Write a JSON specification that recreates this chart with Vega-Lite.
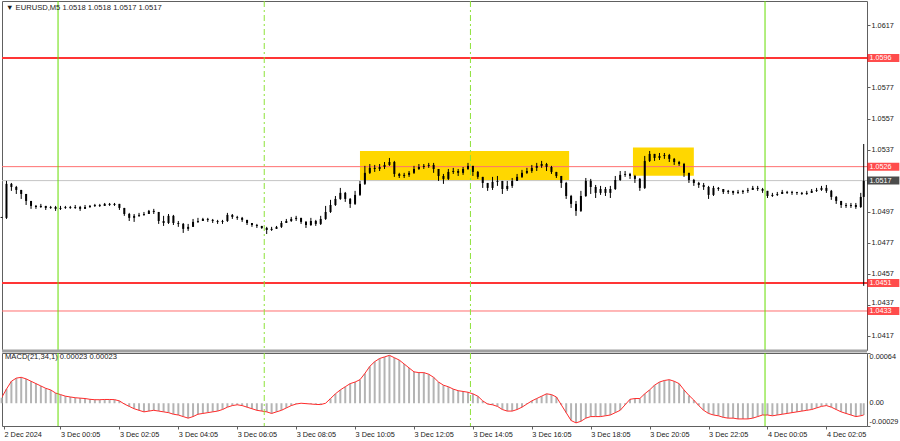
{
"$schema": "https://vega.github.io/schema/vega-lite/v6.json",
"padding": 0,
"background": "white",
"spacing": 3,
"bounds": "flush",
"config": {
 "view": {"stroke": "#606060", "strokeWidth": 1},
 "axis": {"labelFont": "Liberation Sans", "labelFontSize": 7.3, "labelColor": "#1a1a1a", "tickColor": "#606060", "domainColor": "#606060", "grid": false, "title": null, "tickSize": 3, "labelPadding": 1},
 "text": {"font": "Liberation Sans"}
},
"datasets": {
 "bars": [
{"t":"2024-12-02T22:05:00Z","o":1.04936,"h":1.04949,"l":1.04917,"c":1.04930,"m":0.00007},
{"t":"2024-12-02T22:15:00Z","o":1.04930,"h":1.05168,"l":1.04923,"c":1.05149,"m":0.00018},
{"t":"2024-12-02T22:25:00Z","o":1.05149,"h":1.05155,"l":1.05104,"c":1.05129,"m":0.00028},
{"t":"2024-12-02T22:35:00Z","o":1.05129,"h":1.05136,"l":1.05084,"c":1.05110,"m":0.00032},
{"t":"2024-12-02T22:45:00Z","o":1.05110,"h":1.05110,"l":1.05052,"c":1.05084,"m":0.00033},
{"t":"2024-12-02T22:55:00Z","o":1.05084,"h":1.05084,"l":1.05013,"c":1.05039,"m":0.00031},
{"t":"2024-12-02T23:05:00Z","o":1.05039,"h":1.05039,"l":1.04988,"c":1.05007,"m":0.00028},
{"t":"2024-12-02T23:15:00Z","o":1.05007,"h":1.05013,"l":1.04988,"c":1.05000,"m":0.00025},
{"t":"2024-12-02T23:25:00Z","o":1.05000,"h":1.05020,"l":1.04994,"c":1.05007,"m":0.00022},
{"t":"2024-12-02T23:35:00Z","o":1.05007,"h":1.05007,"l":1.04981,"c":1.04994,"m":0.00019},
{"t":"2024-12-02T23:45:00Z","o":1.04994,"h":1.05007,"l":1.04988,"c":1.05000,"m":0.00017},
{"t":"2024-12-02T23:55:00Z","o":1.05000,"h":1.05007,"l":1.04975,"c":1.04988,"m":0.00013},
{"t":"2024-12-03T00:05:00Z","o":1.04988,"h":1.05007,"l":1.04981,"c":1.04994,"m":0.00011},
{"t":"2024-12-03T00:15:00Z","o":1.04994,"h":1.05007,"l":1.04988,"c":1.05000,"m":0.00009},
{"t":"2024-12-03T00:25:00Z","o":1.05000,"h":1.05007,"l":1.04988,"c":1.04994,"m":0.00008},
{"t":"2024-12-03T00:35:00Z","o":1.04994,"h":1.05013,"l":1.04988,"c":1.05000,"m":0.00007},
{"t":"2024-12-03T00:45:00Z","o":1.05000,"h":1.05007,"l":1.04975,"c":1.04988,"m":0.000065},
{"t":"2024-12-03T00:55:00Z","o":1.04988,"h":1.05013,"l":1.04988,"c":1.05000,"m":0.00006},
{"t":"2024-12-03T01:05:00Z","o":1.05000,"h":1.05013,"l":1.04994,"c":1.05007,"m":0.00005},
{"t":"2024-12-03T01:15:00Z","o":1.05007,"h":1.05020,"l":1.05000,"c":1.05013,"m":0.000045},
{"t":"2024-12-03T01:25:00Z","o":1.05013,"h":1.05020,"l":1.05000,"c":1.05007,"m":0.000045},
{"t":"2024-12-03T01:35:00Z","o":1.05007,"h":1.05026,"l":1.05007,"c":1.05020,"m":0.000048},
{"t":"2024-12-03T01:45:00Z","o":1.05020,"h":1.05026,"l":1.05007,"c":1.05013,"m":0.000048},
{"t":"2024-12-03T01:55:00Z","o":1.05013,"h":1.05026,"l":1.05007,"c":1.05020,"m":0.000046},
{"t":"2024-12-03T02:05:00Z","o":1.05020,"h":1.05020,"l":1.04981,"c":1.04994,"m":0.00003},
{"t":"2024-12-03T02:15:00Z","o":1.04994,"h":1.04994,"l":1.04943,"c":1.04955,"m":-0.00001},
{"t":"2024-12-03T02:25:00Z","o":1.04955,"h":1.04962,"l":1.04910,"c":1.04930,"m":-0.00004},
{"t":"2024-12-03T02:35:00Z","o":1.04930,"h":1.04955,"l":1.04904,"c":1.04943,"m":-0.00007},
{"t":"2024-12-03T02:45:00Z","o":1.04943,"h":1.04962,"l":1.04936,"c":1.04949,"m":-0.00009},
{"t":"2024-12-03T02:55:00Z","o":1.04949,"h":1.04968,"l":1.04943,"c":1.04955,"m":-0.00011},
{"t":"2024-12-03T03:05:00Z","o":1.04955,"h":1.04981,"l":1.04955,"c":1.04975,"m":-0.00010},
{"t":"2024-12-03T03:15:00Z","o":1.04975,"h":1.04988,"l":1.04955,"c":1.04968,"m":-0.00009},
{"t":"2024-12-03T03:25:00Z","o":1.04968,"h":1.04968,"l":1.04891,"c":1.04910,"m":-0.00010},
{"t":"2024-12-03T03:35:00Z","o":1.04910,"h":1.04943,"l":1.04878,"c":1.04897,"m":-0.00011},
{"t":"2024-12-03T03:45:00Z","o":1.04897,"h":1.04955,"l":1.04891,"c":1.04943,"m":-0.00012},
{"t":"2024-12-03T03:55:00Z","o":1.04943,"h":1.04949,"l":1.04884,"c":1.04897,"m":-0.00014},
{"t":"2024-12-03T04:05:00Z","o":1.04897,"h":1.04910,"l":1.04872,"c":1.04891,"m":-0.00015},
{"t":"2024-12-03T04:15:00Z","o":1.04891,"h":1.04897,"l":1.04833,"c":1.04859,"m":-0.00017},
{"t":"2024-12-03T04:25:00Z","o":1.04859,"h":1.04891,"l":1.04846,"c":1.04872,"m":-0.00019},
{"t":"2024-12-03T04:35:00Z","o":1.04872,"h":1.04923,"l":1.04872,"c":1.04904,"m":-0.00017},
{"t":"2024-12-03T04:45:00Z","o":1.04904,"h":1.04930,"l":1.04897,"c":1.04910,"m":-0.00014},
{"t":"2024-12-03T04:55:00Z","o":1.04910,"h":1.04930,"l":1.04910,"c":1.04923,"m":-0.00013},
{"t":"2024-12-03T05:05:00Z","o":1.04923,"h":1.04930,"l":1.04904,"c":1.04917,"m":-0.00012},
{"t":"2024-12-03T05:15:00Z","o":1.04917,"h":1.04923,"l":1.04897,"c":1.04910,"m":-0.00011},
{"t":"2024-12-03T05:25:00Z","o":1.04910,"h":1.04917,"l":1.04891,"c":1.04904,"m":-0.00010},
{"t":"2024-12-03T05:35:00Z","o":1.04904,"h":1.04917,"l":1.04891,"c":1.04910,"m":-0.00008},
{"t":"2024-12-03T05:45:00Z","o":1.04910,"h":1.04962,"l":1.04904,"c":1.04949,"m":-0.00005},
{"t":"2024-12-03T05:55:00Z","o":1.04949,"h":1.04955,"l":1.04923,"c":1.04936,"m":-0.00003},
{"t":"2024-12-03T06:05:00Z","o":1.04936,"h":1.04943,"l":1.04917,"c":1.04930,"m":-0.00002},
{"t":"2024-12-03T06:15:00Z","o":1.04930,"h":1.04936,"l":1.04904,"c":1.04917,"m":-0.00003},
{"t":"2024-12-03T06:25:00Z","o":1.04917,"h":1.04917,"l":1.04884,"c":1.04897,"m":-0.00005},
{"t":"2024-12-03T06:35:00Z","o":1.04897,"h":1.04897,"l":1.04872,"c":1.04884,"m":-0.00007},
{"t":"2024-12-03T06:45:00Z","o":1.04884,"h":1.04891,"l":1.04865,"c":1.04878,"m":-0.00009},
{"t":"2024-12-03T06:55:00Z","o":1.04878,"h":1.04878,"l":1.04859,"c":1.04865,"m":-0.00010},
{"t":"2024-12-03T07:05:00Z","o":1.04865,"h":1.04872,"l":1.04826,"c":1.04852,"m":-0.00011},
{"t":"2024-12-03T07:15:00Z","o":1.04852,"h":1.04872,"l":1.04846,"c":1.04859,"m":-0.00013},
{"t":"2024-12-03T07:25:00Z","o":1.04859,"h":1.04878,"l":1.04859,"c":1.04872,"m":-0.00011},
{"t":"2024-12-03T07:35:00Z","o":1.04872,"h":1.04910,"l":1.04865,"c":1.04897,"m":-0.00009},
{"t":"2024-12-03T07:45:00Z","o":1.04897,"h":1.04923,"l":1.04897,"c":1.04910,"m":-0.00006},
{"t":"2024-12-03T07:55:00Z","o":1.04910,"h":1.04936,"l":1.04904,"c":1.04923,"m":-0.00003},
{"t":"2024-12-03T08:05:00Z","o":1.04923,"h":1.04943,"l":1.04910,"c":1.04930,"m":-0.00001},
{"t":"2024-12-03T08:15:00Z","o":1.04930,"h":1.04930,"l":1.04891,"c":1.04904,"m":0.0},
{"t":"2024-12-03T08:25:00Z","o":1.04904,"h":1.04910,"l":1.04865,"c":1.04884,"m":-0.000005},
{"t":"2024-12-03T08:35:00Z","o":1.04884,"h":1.04930,"l":1.04878,"c":1.04910,"m":-0.00001},
{"t":"2024-12-03T08:45:00Z","o":1.04910,"h":1.04917,"l":1.04878,"c":1.04891,"m":-0.000015},
{"t":"2024-12-03T08:55:00Z","o":1.04891,"h":1.04943,"l":1.04884,"c":1.04923,"m":-0.000017},
{"t":"2024-12-03T09:05:00Z","o":1.04923,"h":1.05007,"l":1.04917,"c":1.04968,"m":0.0},
{"t":"2024-12-03T09:15:00Z","o":1.04968,"h":1.05046,"l":1.04962,"c":1.05013,"m":0.00006},
{"t":"2024-12-03T09:25:00Z","o":1.05013,"h":1.05071,"l":1.05007,"c":1.05052,"m":0.00012},
{"t":"2024-12-03T09:35:00Z","o":1.05052,"h":1.05123,"l":1.05046,"c":1.05091,"m":0.00017},
{"t":"2024-12-03T09:45:00Z","o":1.05091,"h":1.05097,"l":1.05033,"c":1.05052,"m":0.00021},
{"t":"2024-12-03T09:55:00Z","o":1.05052,"h":1.05058,"l":1.04994,"c":1.05020,"m":0.00025},
{"t":"2024-12-03T10:05:00Z","o":1.05020,"h":1.05104,"l":1.05013,"c":1.05078,"m":0.00027},
{"t":"2024-12-03T10:15:00Z","o":1.05078,"h":1.05168,"l":1.05071,"c":1.05149,"m":0.00030},
{"t":"2024-12-03T10:25:00Z","o":1.05149,"h":1.05265,"l":1.05142,"c":1.05220,"m":0.00038},
{"t":"2024-12-03T10:35:00Z","o":1.05220,"h":1.05277,"l":1.05213,"c":1.05252,"m":0.00047},
{"t":"2024-12-03T10:45:00Z","o":1.05252,"h":1.05271,"l":1.05226,"c":1.05245,"m":0.00053},
{"t":"2024-12-03T10:55:00Z","o":1.05245,"h":1.05277,"l":1.05232,"c":1.05258,"m":0.00057},
{"t":"2024-12-03T11:05:00Z","o":1.05258,"h":1.05290,"l":1.05245,"c":1.05271,"m":0.00059},
{"t":"2024-12-03T11:15:00Z","o":1.05271,"h":1.05316,"l":1.05265,"c":1.05290,"m":0.00061},
{"t":"2024-12-03T11:25:00Z","o":1.05290,"h":1.05297,"l":1.05194,"c":1.05213,"m":0.00058},
{"t":"2024-12-03T11:35:00Z","o":1.05213,"h":1.05220,"l":1.05187,"c":1.05200,"m":0.00055},
{"t":"2024-12-03T11:45:00Z","o":1.05200,"h":1.05220,"l":1.05187,"c":1.05207,"m":0.00050},
{"t":"2024-12-03T11:55:00Z","o":1.05207,"h":1.05232,"l":1.05194,"c":1.05220,"m":0.00045},
{"t":"2024-12-03T12:05:00Z","o":1.05220,"h":1.05265,"l":1.05213,"c":1.05245,"m":0.00040},
{"t":"2024-12-03T12:15:00Z","o":1.05245,"h":1.05277,"l":1.05239,"c":1.05258,"m":0.00039},
{"t":"2024-12-03T12:25:00Z","o":1.05258,"h":1.05277,"l":1.05245,"c":1.05265,"m":0.00039},
{"t":"2024-12-03T12:35:00Z","o":1.05265,"h":1.05284,"l":1.05252,"c":1.05271,"m":0.00037},
{"t":"2024-12-03T12:45:00Z","o":1.05271,"h":1.05284,"l":1.05220,"c":1.05245,"m":0.00033},
{"t":"2024-12-03T12:55:00Z","o":1.05245,"h":1.05245,"l":1.05168,"c":1.05200,"m":0.00027},
{"t":"2024-12-03T13:05:00Z","o":1.05200,"h":1.05213,"l":1.05149,"c":1.05181,"m":0.00023},
{"t":"2024-12-03T13:15:00Z","o":1.05181,"h":1.05245,"l":1.05174,"c":1.05226,"m":0.00021},
{"t":"2024-12-03T13:25:00Z","o":1.05226,"h":1.05252,"l":1.05213,"c":1.05232,"m":0.00018},
{"t":"2024-12-03T13:35:00Z","o":1.05232,"h":1.05245,"l":1.05200,"c":1.05220,"m":0.00016},
{"t":"2024-12-03T13:45:00Z","o":1.05220,"h":1.05258,"l":1.05207,"c":1.05245,"m":0.00015},
{"t":"2024-12-03T13:55:00Z","o":1.05245,"h":1.05284,"l":1.05239,"c":1.05265,"m":0.00014},
{"t":"2024-12-03T14:05:00Z","o":1.05265,"h":1.05265,"l":1.05200,"c":1.05226,"m":0.00012},
{"t":"2024-12-03T14:15:00Z","o":1.05226,"h":1.05232,"l":1.05181,"c":1.05194,"m":0.00009},
{"t":"2024-12-03T14:25:00Z","o":1.05194,"h":1.05194,"l":1.05123,"c":1.05155,"m":0.00003},
{"t":"2024-12-03T14:35:00Z","o":1.05155,"h":1.05155,"l":1.05104,"c":1.05123,"m":-0.00001},
{"t":"2024-12-03T14:45:00Z","o":1.05123,"h":1.05194,"l":1.05110,"c":1.05162,"m":-0.00002},
{"t":"2024-12-03T14:55:00Z","o":1.05162,"h":1.05200,"l":1.05136,"c":1.05168,"m":-0.00004},
{"t":"2024-12-03T15:05:00Z","o":1.05168,"h":1.05168,"l":1.05084,"c":1.05116,"m":-0.00008},
{"t":"2024-12-03T15:15:00Z","o":1.05116,"h":1.05168,"l":1.05104,"c":1.05136,"m":-0.00010},
{"t":"2024-12-03T15:25:00Z","o":1.05136,"h":1.05187,"l":1.05123,"c":1.05168,"m":-0.00010},
{"t":"2024-12-03T15:35:00Z","o":1.05168,"h":1.05213,"l":1.05168,"c":1.05194,"m":-0.00008},
{"t":"2024-12-03T15:45:00Z","o":1.05194,"h":1.05239,"l":1.05187,"c":1.05220,"m":-0.00005},
{"t":"2024-12-03T15:55:00Z","o":1.05220,"h":1.05252,"l":1.05213,"c":1.05232,"m":-0.00001},
{"t":"2024-12-03T16:05:00Z","o":1.05232,"h":1.05271,"l":1.05220,"c":1.05252,"m":0.00003},
{"t":"2024-12-03T16:15:00Z","o":1.05252,"h":1.05284,"l":1.05232,"c":1.05265,"m":0.00006},
{"t":"2024-12-03T16:25:00Z","o":1.05265,"h":1.05297,"l":1.05252,"c":1.05277,"m":0.00009},
{"t":"2024-12-03T16:35:00Z","o":1.05277,"h":1.05284,"l":1.05232,"c":1.05258,"m":0.00012},
{"t":"2024-12-03T16:45:00Z","o":1.05258,"h":1.05265,"l":1.05213,"c":1.05226,"m":0.00011},
{"t":"2024-12-03T16:55:00Z","o":1.05226,"h":1.05226,"l":1.05187,"c":1.05200,"m":0.00008},
{"t":"2024-12-03T17:05:00Z","o":1.05200,"h":1.05200,"l":1.05123,"c":1.05155,"m":-0.00002},
{"t":"2024-12-03T17:15:00Z","o":1.05155,"h":1.05162,"l":1.05052,"c":1.05071,"m":-0.00012},
{"t":"2024-12-03T17:25:00Z","o":1.05071,"h":1.05078,"l":1.04994,"c":1.05020,"m":-0.00022},
{"t":"2024-12-03T17:35:00Z","o":1.05020,"h":1.05039,"l":1.04943,"c":1.04975,"m":-0.00025},
{"t":"2024-12-03T17:45:00Z","o":1.04975,"h":1.05104,"l":1.04968,"c":1.05071,"m":-0.00023},
{"t":"2024-12-03T17:55:00Z","o":1.05071,"h":1.05187,"l":1.05065,"c":1.05168,"m":-0.00019},
{"t":"2024-12-03T18:05:00Z","o":1.05168,"h":1.05181,"l":1.05084,"c":1.05129,"m":-0.00017},
{"t":"2024-12-03T18:15:00Z","o":1.05129,"h":1.05142,"l":1.05058,"c":1.05091,"m":-0.00017},
{"t":"2024-12-03T18:25:00Z","o":1.05091,"h":1.05136,"l":1.05078,"c":1.05116,"m":-0.00017},
{"t":"2024-12-03T18:35:00Z","o":1.05116,"h":1.05129,"l":1.05071,"c":1.05091,"m":-0.00016},
{"t":"2024-12-03T18:45:00Z","o":1.05091,"h":1.05136,"l":1.05058,"c":1.05116,"m":-0.00015},
{"t":"2024-12-03T18:55:00Z","o":1.05116,"h":1.05200,"l":1.05110,"c":1.05174,"m":-0.00012},
{"t":"2024-12-03T19:05:00Z","o":1.05174,"h":1.05232,"l":1.05168,"c":1.05207,"m":-0.00009},
{"t":"2024-12-03T19:15:00Z","o":1.05207,"h":1.05232,"l":1.05194,"c":1.05213,"m":-0.00002},
{"t":"2024-12-03T19:25:00Z","o":1.05213,"h":1.05220,"l":1.05181,"c":1.05200,"m":0.00005},
{"t":"2024-12-03T19:35:00Z","o":1.05200,"h":1.05207,"l":1.05155,"c":1.05181,"m":0.00006},
{"t":"2024-12-03T19:45:00Z","o":1.05181,"h":1.05187,"l":1.05104,"c":1.05123,"m":0.00006},
{"t":"2024-12-03T19:55:00Z","o":1.05123,"h":1.05329,"l":1.05116,"c":1.05297,"m":0.00012},
{"t":"2024-12-03T20:05:00Z","o":1.05297,"h":1.05361,"l":1.05290,"c":1.05342,"m":0.00017},
{"t":"2024-12-03T20:15:00Z","o":1.05342,"h":1.05342,"l":1.05297,"c":1.05316,"m":0.00023},
{"t":"2024-12-03T20:25:00Z","o":1.05316,"h":1.05348,"l":1.05303,"c":1.05329,"m":0.00027},
{"t":"2024-12-03T20:35:00Z","o":1.05329,"h":1.05348,"l":1.05310,"c":1.05335,"m":0.00029},
{"t":"2024-12-03T20:45:00Z","o":1.05335,"h":1.05342,"l":1.05290,"c":1.05310,"m":0.00030},
{"t":"2024-12-03T20:55:00Z","o":1.05310,"h":1.05316,"l":1.05271,"c":1.05290,"m":0.00028},
{"t":"2024-12-03T21:05:00Z","o":1.05290,"h":1.05297,"l":1.05265,"c":1.05277,"m":0.00025},
{"t":"2024-12-03T21:15:00Z","o":1.05277,"h":1.05284,"l":1.05194,"c":1.05220,"m":0.00017},
{"t":"2024-12-03T21:25:00Z","o":1.05220,"h":1.05220,"l":1.05155,"c":1.05174,"m":0.00010},
{"t":"2024-12-03T21:35:00Z","o":1.05174,"h":1.05181,"l":1.05136,"c":1.05155,"m":0.00004},
{"t":"2024-12-03T21:45:00Z","o":1.05155,"h":1.05162,"l":1.05123,"c":1.05142,"m":-0.00003},
{"t":"2024-12-03T21:55:00Z","o":1.05142,"h":1.05155,"l":1.05110,"c":1.05129,"m":-0.00009},
{"t":"2024-12-03T22:05:00Z","o":1.05129,"h":1.05136,"l":1.05052,"c":1.05078,"m":-0.00013},
{"t":"2024-12-03T22:15:00Z","o":1.05078,"h":1.05136,"l":1.05071,"c":1.05123,"m":-0.00015},
{"t":"2024-12-03T22:25:00Z","o":1.05123,"h":1.05129,"l":1.05104,"c":1.05116,"m":-0.00016},
{"t":"2024-12-03T22:35:00Z","o":1.05116,"h":1.05116,"l":1.05084,"c":1.05097,"m":-0.00018},
{"t":"2024-12-03T22:45:00Z","o":1.05097,"h":1.05110,"l":1.05084,"c":1.05104,"m":-0.00019},
{"t":"2024-12-03T22:55:00Z","o":1.05104,"h":1.05104,"l":1.05078,"c":1.05091,"m":-0.00019},
{"t":"2024-12-03T23:05:00Z","o":1.05091,"h":1.05110,"l":1.05084,"c":1.05097,"m":-0.00020},
{"t":"2024-12-03T23:15:00Z","o":1.05097,"h":1.05110,"l":1.05084,"c":1.05104,"m":-0.00020},
{"t":"2024-12-03T23:25:00Z","o":1.05104,"h":1.05123,"l":1.05091,"c":1.05110,"m":-0.00020},
{"t":"2024-12-03T23:35:00Z","o":1.05110,"h":1.05136,"l":1.05110,"c":1.05123,"m":-0.00019},
{"t":"2024-12-03T23:45:00Z","o":1.05123,"h":1.05136,"l":1.05104,"c":1.05116,"m":-0.00017},
{"t":"2024-12-03T23:55:00Z","o":1.05116,"h":1.05123,"l":1.05091,"c":1.05104,"m":-0.00015},
{"t":"2024-12-04T00:05:00Z","o":1.05104,"h":1.05104,"l":1.05058,"c":1.05071,"m":-0.00015},
{"t":"2024-12-04T00:15:00Z","o":1.05071,"h":1.05091,"l":1.05065,"c":1.05078,"m":-0.00016},
{"t":"2024-12-04T00:25:00Z","o":1.05078,"h":1.05097,"l":1.05071,"c":1.05084,"m":-0.00015},
{"t":"2024-12-04T00:35:00Z","o":1.05084,"h":1.05110,"l":1.05084,"c":1.05097,"m":-0.00014},
{"t":"2024-12-04T00:45:00Z","o":1.05097,"h":1.05104,"l":1.05084,"c":1.05091,"m":-0.00013},
{"t":"2024-12-04T00:55:00Z","o":1.05091,"h":1.05104,"l":1.05078,"c":1.05097,"m":-0.00012},
{"t":"2024-12-04T01:05:00Z","o":1.05097,"h":1.05097,"l":1.05078,"c":1.05091,"m":-0.00011},
{"t":"2024-12-04T01:15:00Z","o":1.05091,"h":1.05097,"l":1.05078,"c":1.05084,"m":-0.00010},
{"t":"2024-12-04T01:25:00Z","o":1.05084,"h":1.05104,"l":1.05078,"c":1.05091,"m":-0.00009},
{"t":"2024-12-04T01:35:00Z","o":1.05091,"h":1.05116,"l":1.05091,"c":1.05104,"m":-0.00008},
{"t":"2024-12-04T01:45:00Z","o":1.05104,"h":1.05123,"l":1.05097,"c":1.05110,"m":-0.00006},
{"t":"2024-12-04T01:55:00Z","o":1.05110,"h":1.05136,"l":1.05104,"c":1.05123,"m":-0.00004},
{"t":"2024-12-04T02:05:00Z","o":1.05123,"h":1.05142,"l":1.05091,"c":1.05104,"m":-0.00003},
{"t":"2024-12-04T02:15:00Z","o":1.05104,"h":1.05110,"l":1.05046,"c":1.05065,"m":-0.00005},
{"t":"2024-12-04T02:25:00Z","o":1.05065,"h":1.05071,"l":1.05020,"c":1.05039,"m":-0.00008},
{"t":"2024-12-04T02:35:00Z","o":1.05039,"h":1.05039,"l":1.04994,"c":1.05013,"m":-0.00011},
{"t":"2024-12-04T02:45:00Z","o":1.05013,"h":1.05026,"l":1.04994,"c":1.05007,"m":-0.00013},
{"t":"2024-12-04T02:55:00Z","o":1.05007,"h":1.05026,"l":1.04994,"c":1.05013,"m":-0.00015},
{"t":"2024-12-04T03:05:00Z","o":1.05013,"h":1.05026,"l":1.04988,"c":1.05000,"m":-0.00017},
{"t":"2024-12-04T03:15:00Z","o":1.05000,"h":1.05091,"l":1.04994,"c":1.05065,"m":-0.00016},
{"t":"2024-12-04T03:21:00Z","o":1.05065,"h":1.05406,"l":1.04492,"c":1.05168,"m":-0.00015}
 ],
 "levels": [{"p":1.0596,"kind":"major"},{"p":1.0526,"kind":"minor"},{"p":1.0451,"kind":"major"},{"p":1.0433,"kind":"minor"}],
 "boxes": [{"t1":"2024-12-03T10:15:00Z","t2":"2024-12-03T17:21:00Z","p1":1.05361,"p2":1.05173},{"t1":"2024-12-03T19:31:00Z","t2":"2024-12-03T21:35:00Z","p1":1.05383,"p2":1.05202}],
 "vlines": [{"t":"2024-12-03T00:00:00Z","kind":"day"},{"t":"2024-12-03T07:00:00Z","kind":"session"},{"t":"2024-12-03T14:00:00Z","kind":"session"},{"t":"2024-12-04T00:00:00Z","kind":"day"}],
 "tags": [{"p":1.0596,"kind":"level"},{"p":1.0526,"kind":"level"},{"p":1.0451,"kind":"level"},{"p":1.0433,"kind":"level"},{"p":1.0517,"kind":"bid"}],
 "headers": [{"panel":"price","label":"▼ EURUSD,M5 1.0518 1.0518 1.0517 1.0517"},{"panel":"macd","label":"MACD(21,34,1) 0.00023 0.00023"}],
 "macdTicks": [{"v":0.00064,"label":"0.00064","edge":"top"},{"v":0,"label":"0.00","edge":"mid"},{"v":-0.00029,"label":"-0.00029","edge":"bottom"}]
},
"vconcat": [
 {
  "width": 865, "height": 349,
  "layer": [
   {"data": {"name": "boxes"}, "mark": {"type": "rect", "color": "#FFD700"},
    "encoding": {
     "x": {"field": "t1", "type": "temporal", "scale": {"type": "utc", "domain": [1733177152000, 1733282862000], "padding": 0}, "axis": null},
     "x2": {"field": "t2"},
     "y": {"field": "p1", "type": "quantitative", "scale": {"domain": [1.0407868, 1.0632724], "zero": false, "nice": false, "padding": 0},
           "axis": {"orient": "right", "values": [1.0617, 1.0577, 1.0557, 1.0537, 1.0497, 1.0477, 1.0457, 1.0437, 1.0417], "format": ".4f", "domain": false, "labelOverlap": false,
                    "labelOffset": {"condition": {"test": "datum.value < 1.0440 && datum.value > 1.0435", "value": -2}, "value": 0}}},
     "y2": {"field": "p2"}}},
   {"data": {"name": "levels"}, "mark": {"type": "rule", "clip": true},
    "encoding": {
     "y": {"field": "p", "type": "quantitative", "scale": {"domain": [1.0407868, 1.0632724], "zero": false, "nice": false, "padding": 0}},
     "color": {"condition": {"test": "datum.kind == 'major'", "value": "#ff3535"}, "value": "#ff7070"},
     "strokeWidth": {"condition": {"test": "datum.kind == 'major'", "value": 2}, "value": 1}}},
   {"data": {"name": "tags"}, "transform": [{"filter": "datum.kind == 'bid'"}], "mark": {"type": "rule", "color": "#c4c4c4", "strokeWidth": 1, "clip": true},
    "encoding": {"y": {"field": "p", "type": "quantitative", "scale": {"domain": [1.0407868, 1.0632724], "zero": false, "nice": false, "padding": 0}}}},
   {"data": {"name": "vlines"}, "mark": {"type": "rule", "clip": true},
    "encoding": {
     "x": {"field": "t", "type": "temporal", "scale": {"type": "utc", "domain": [1733177152000, 1733282862000], "padding": 0}, "axis": null},
     "color": {"condition": {"test": "datum.kind == 'day'", "value": "#66dd00"}, "value": "#8ee23a"},
     "strokeDash": {"condition": {"test": "datum.kind == 'session'", "value": [6, 3, 2, 3]}, "value": [1, 0]}}},
   {"data": {"name": "headers"}, "transform": [{"filter": "datum.panel == 'price'"}], "mark": {"type": "rect", "color": "#a0a0a0", "clip": false},
    "encoding": {
     "x": {"datum": 1733177152000, "type": "temporal", "scale": {"type": "utc", "domain": [1733177152000, 1733282862000], "padding": 0}, "axis": null},
     "x2": {"datum": 1733282862000},
     "y": {"datum": 1.04082, "type": "quantitative", "scale": {"domain": [1.0407868, 1.0632724], "zero": false, "nice": false, "padding": 0}},
     "y2": {"datum": 1.04063}}},
   {"data": {"name": "bars"}, "mark": {"type": "rule", "color": "#000000", "strokeWidth": 1, "clip": true},
    "encoding": {
     "x": {"field": "t", "type": "temporal", "scale": {"type": "utc", "domain": [1733177152000, 1733282862000], "padding": 0}, "axis": null},
     "y": {"field": "l", "type": "quantitative", "scale": {"domain": [1.0407868, 1.0632724], "zero": false, "nice": false, "padding": 0}},
     "y2": {"field": "h"}}},
   {"data": {"name": "bars"}, "mark": {"type": "bar", "size": 2, "color": "#000000"},
    "encoding": {
     "x": {"field": "t", "type": "temporal", "scale": {"type": "utc", "domain": [1733177152000, 1733282862000], "padding": 0}, "axis": null},
     "y": {"field": "o", "type": "quantitative", "scale": {"domain": [1.0407868, 1.0632724], "zero": false, "nice": false, "padding": 0}},
     "y2": {"field": "c"}}},
   {"data": {"name": "tags"}, "mark": {"type": "tick", "orient": "horizontal", "thickness": 8, "size": 32, "clip": false},
    "encoding": {
     "x": {"datum": 1733284860000, "type": "temporal", "scale": {"type": "utc", "domain": [1733177152000, 1733282862000], "padding": 0}, "axis": null},
     "y": {"field": "p", "type": "quantitative", "scale": {"domain": [1.0407868, 1.0632724], "zero": false, "nice": false, "padding": 0}},
     "color": {"condition": {"test": "datum.kind == 'bid'", "value": "#000000"}, "value": "#ff0000"}}},
   {"data": {"name": "tags"}, "mark": {"type": "text", "align": "left", "baseline": "middle", "fontSize": 7.2, "color": "#ffffff", "clip": false},
    "encoding": {
     "x": {"datum": 1733283180000, "type": "temporal", "scale": {"type": "utc", "domain": [1733177152000, 1733282862000], "padding": 0}, "axis": null},
     "y": {"field": "p", "type": "quantitative", "scale": {"domain": [1.0407868, 1.0632724], "zero": false, "nice": false, "padding": 0}},
     "text": {"field": "p", "format": ".4f"}}},
   {"data": {"name": "headers"}, "transform": [{"filter": "datum.panel == 'price'"}], "mark": {"type": "text", "align": "left", "baseline": "middle", "fontSize": 7.6, "color": "#1a1a1a"},
    "encoding": {
     "x": {"datum": 1733177640000, "type": "temporal", "scale": {"type": "utc", "domain": [1733177152000, 1733282862000], "padding": 0}, "axis": null},
     "y": {"datum": 1.06282, "type": "quantitative", "scale": {"domain": [1.0407868, 1.0632724], "zero": false, "nice": false, "padding": 0}},
     "text": {"field": "label"}}}
  ]
 },
 {
  "width": 865, "height": 73,
  "layer": [
   {"data": {"name": "bars"}, "mark": {"type": "bar", "size": 2, "color": "#b4b4b4"},
    "encoding": {
     "x": {"field": "t", "type": "temporal", "scale": {"type": "utc", "domain": [1733177152000, 1733282862000], "padding": 0},
           "axis": {"orient": "bottom", "values": [1733177400000, 1733184300000, 1733191500000, 1733198700000, 1733205900000, 1733213100000, 1733220300000, 1733227500000, 1733234700000, 1733241900000, 1733249100000, 1733256300000, 1733263500000, 1733270700000, 1733277900000],
                    "labelExpr": "datum.value < 1733184000000 ? '2 Dec 2024' : utcFormat(datum.value, '%-d %b %H:%M')",
                    "labelAlign": "left", "labelBaseline": "top", "labelOverlap": false, "labelBound": false, "labelFlush": false, "domain": false}},
     "y": {"field": "m", "type": "quantitative", "scale": {"domain": [-0.00029, 0.00064], "zero": false, "nice": false, "padding": 0},
           "axis": {"orient": "right", "values": [0.00064, 0, -0.00029], "labels": false, "domain": false}},
     "y2": {"datum": 0}}},
   {"data": {"name": "bars"}, "mark": {"type": "line", "color": "#ff2b2b", "strokeWidth": 1, "clip": true},
    "encoding": {
     "x": {"field": "t", "type": "temporal", "scale": {"type": "utc", "domain": [1733177152000, 1733282862000], "padding": 0}},
     "y": {"field": "m", "type": "quantitative", "scale": {"domain": [-0.00029, 0.00064], "zero": false, "nice": false, "padding": 0}}}},
   {"data": {"name": "vlines"}, "mark": {"type": "rule", "clip": true},
    "encoding": {
     "x": {"field": "t", "type": "temporal", "scale": {"type": "utc", "domain": [1733177152000, 1733282862000], "padding": 0}},
     "color": {"condition": {"test": "datum.kind == 'day'", "value": "#66dd00"}, "value": "#8ee23a"},
     "strokeDash": {"condition": {"test": "datum.kind == 'session'", "value": [6, 3, 2, 3]}, "value": [1, 0]}}},
   {"data": {"name": "macdTicks"}, "transform": [{"filter": "datum.edge == 'top'"}], "mark": {"type": "text", "align": "left", "baseline": "top", "fontSize": 7.3, "color": "#1a1a1a", "clip": false},
    "encoding": {
     "x": {"datum": 1733283180000, "type": "temporal", "scale": {"type": "utc", "domain": [1733177152000, 1733282862000], "padding": 0}},
     "y": {"field": "v", "type": "quantitative", "scale": {"domain": [-0.00029, 0.00064], "zero": false, "nice": false, "padding": 0}},
     "text": {"field": "label"}}},
   {"data": {"name": "macdTicks"}, "transform": [{"filter": "datum.edge == 'mid'"}], "mark": {"type": "text", "align": "left", "baseline": "middle", "fontSize": 7.3, "color": "#1a1a1a", "clip": false},
    "encoding": {
     "x": {"datum": 1733283180000, "type": "temporal", "scale": {"type": "utc", "domain": [1733177152000, 1733282862000], "padding": 0}},
     "y": {"field": "v", "type": "quantitative", "scale": {"domain": [-0.00029, 0.00064], "zero": false, "nice": false, "padding": 0}},
     "text": {"field": "label"}}},
   {"data": {"name": "macdTicks"}, "transform": [{"filter": "datum.edge == 'bottom'"}], "mark": {"type": "text", "align": "left", "baseline": "bottom", "fontSize": 7.3, "color": "#1a1a1a", "clip": false},
    "encoding": {
     "x": {"datum": 1733283180000, "type": "temporal", "scale": {"type": "utc", "domain": [1733177152000, 1733282862000], "padding": 0}},
     "y": {"field": "v", "type": "quantitative", "scale": {"domain": [-0.00029, 0.00064], "zero": false, "nice": false, "padding": 0}},
     "text": {"field": "label"}}},
   {"data": {"name": "headers"}, "transform": [{"filter": "datum.panel == 'macd'"}], "mark": {"type": "text", "align": "left", "baseline": "middle", "fontSize": 7.6, "color": "#1a1a1a"},
    "encoding": {
     "x": {"datum": 1733177520000, "type": "temporal", "scale": {"type": "utc", "domain": [1733177152000, 1733282862000], "padding": 0}},
     "y": {"datum": 0.00059, "type": "quantitative", "scale": {"domain": [-0.00029, 0.00064], "zero": false, "nice": false, "padding": 0}},
     "text": {"field": "label"}}}
  ]
 }
]
}
